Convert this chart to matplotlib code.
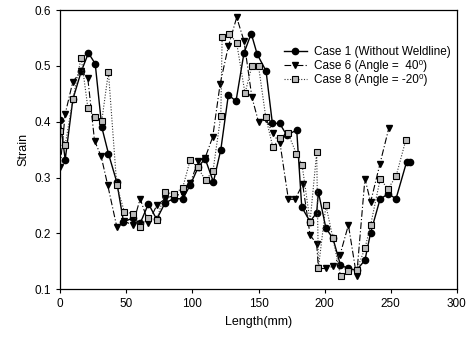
import matplotlib
matplotlib.use("Agg")
import matplotlib.pyplot as plt

plt.rcParams['font.family'] = ['Liberation Sans', 'DejaVu Sans']

# Case 1 (Without Weldline)
x1 = [0, 3.8, 9.6, 15.9, 21.4, 26.5, 31.5, 36.5, 42.8, 47.9, 54.9, 60.5, 66.8, 73, 79.4, 86, 92.7,
      98.3, 104.5, 109.6, 115.9, 121.5, 127.2, 133, 139, 144.5, 149, 155.7, 160.5, 166, 171.3,
      178.9, 182.7, 189, 194, 195.3, 201, 206.3, 212, 218, 224.2, 230.5, 234.8, 241.9, 248, 254,
      262, 264.5]
y1 = [0.403, 0.332, 0.44, 0.49, 0.523, 0.504, 0.39, 0.343, 0.292, 0.221, 0.227, 0.218, 0.253, 0.225,
      0.255, 0.262, 0.262, 0.286, 0.319, 0.334, 0.292, 0.35, 0.448, 0.437, 0.523, 0.558, 0.521,
      0.491, 0.397, 0.397, 0.376, 0.385, 0.247, 0.221, 0.237, 0.274, 0.209, 0.191, 0.143, 0.137,
      0.134, 0.152, 0.201, 0.261, 0.271, 0.262, 0.328, 0.328]

# Case 6 (Angle = 40)
x6 = [0, 3.8, 9.6, 15.9, 20.9, 26, 31, 36, 42.8, 48, 54.9, 60.5, 66.8, 73, 79.4, 86, 92.7, 98.3,
      104.5, 109.6, 115.4, 121, 127.2, 133.5, 139, 145, 150, 155.7, 160.8, 166.3, 172.6, 177.6,
      183.4, 189, 194, 195.3, 201, 206.6, 211.6, 218, 224.2, 230.5, 234.8, 241.9, 248.5]
y6 = [0.319, 0.414, 0.472, 0.49, 0.478, 0.366, 0.338, 0.286, 0.212, 0.222, 0.215, 0.262, 0.219, 0.25,
      0.262, 0.268, 0.27, 0.29, 0.33, 0.335, 0.373, 0.468, 0.535, 0.587, 0.545, 0.444, 0.40, 0.405,
      0.379, 0.361, 0.261, 0.261, 0.288, 0.197, 0.181, 0.137, 0.137, 0.141, 0.161, 0.215, 0.123,
      0.298, 0.256, 0.325, 0.388]

# Case 8 (Angle = -20)
x8 = [0, 3.8, 9.6, 15.9, 21, 26, 31.5, 36.5, 42.8, 48.5, 54.9, 60.5, 66.8, 73, 79.4, 86, 92.7,
      98.3, 104, 110, 115.6, 121.5, 122.5, 128, 133.5, 139.8, 145, 150, 155.5, 160.8, 166.3,
      172.2, 178.6, 183, 189, 194, 195.3, 201, 206.3, 212.1, 218, 224.2, 230.5, 234.8, 242, 248,
      254, 261.5]
y8 = [0.384, 0.358, 0.44, 0.515, 0.424, 0.408, 0.402, 0.489, 0.286, 0.239, 0.235, 0.212, 0.227,
      0.224, 0.274, 0.27, 0.282, 0.331, 0.318, 0.295, 0.312, 0.411, 0.552, 0.558, 0.541, 0.451,
      0.50, 0.50, 0.408, 0.355, 0.37, 0.38, 0.343, 0.322, 0.221, 0.345, 0.138, 0.25, 0.191,
      0.123, 0.132, 0.134, 0.173, 0.215, 0.297, 0.28, 0.302, 0.368]

labels = ["Case 1 (Without Weldline)", "Case 6 (Angle =  40\u2070)", "Case 8 (Angle = -20\u2070)"]

fig = plt.figure(figsize=(4.7, 3.37), dpi=100)
ax = fig.add_axes([0.128, 0.142, 0.844, 0.828])

ax.plot(x1, y1, color='black', linestyle='-', linewidth=1.0, marker='o', markersize=4.5,
        markerfacecolor='black', markeredgecolor='black', label=labels[0])
ax.plot(x6, y6, color='black', linestyle=(0, (6, 2, 1, 2)), linewidth=0.8, marker='v', markersize=4.5,
        markerfacecolor='black', markeredgecolor='black', label=labels[1])
ax.plot(x8, y8, color='#333333', linestyle=(0, (1, 1.5)), linewidth=0.8, marker='s', markersize=4,
        markerfacecolor='#bbbbbb', markeredgecolor='black', markeredgewidth=0.8, label=labels[2])

ax.set_xlim(0, 300)
ax.set_ylim(0.1, 0.6)
ax.set_xticks([0, 50, 100, 150, 200, 250, 300])
ax.set_yticks([0.1, 0.2, 0.3, 0.4, 0.5, 0.6])
ax.set_yticklabels(["0.1", "0.2", "0.3", "0.4", "0.5", "0.6"])
ax.tick_params(axis='both', labelsize=8.5, direction='out', length=3, width=0.8)
ax.set_xlabel("Length(mm)", fontsize=9)
ax.set_ylabel("Strain", fontsize=9)
for s in ax.spines.values():
    s.set_linewidth(0.9)

ax.legend(loc='upper left', bbox_to_anchor=(0.565, 0.87), frameon=False, fontsize=8.5,
          handlelength=1.9, handletextpad=0.6, labelspacing=0.15, borderpad=0.0,
          borderaxespad=0.0)

fig.savefig("out.png", dpi=100)
